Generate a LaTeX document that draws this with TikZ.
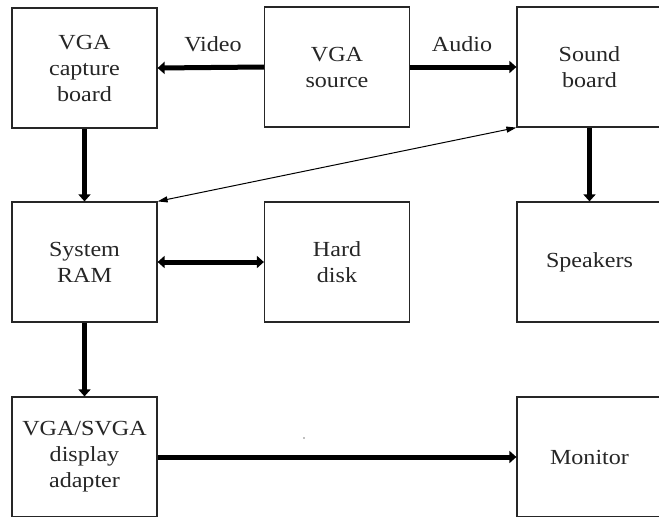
\documentclass[tikz,border=0pt]{standalone}
\usepackage{fontspec}
\setmainfont[FakeStretch=1.12]{Liberation Serif}
\usetikzlibrary{arrows.meta}
\tikzset{
  blk/.style={draw=black!85, line width=1.2pt, rectangle, minimum width=145pt, minimum height=120pt, inner sep=0pt, align=center, font=\fontsize{21.5}{26}\selectfont, text=black!85},
  lbl/.style={font=\fontsize{21.5}{26}\selectfont, text=black!85, inner sep=0pt},
  fat/.style={line width=5pt, -{Triangle[length=7pt,width=12pt]}},
  fatboth/.style={line width=5pt, {Triangle[length=7pt,width=12pt]}-{Triangle[length=7pt,width=12pt]}},
  thin/.style={line width=1pt, {Triangle[length=10pt,width=6pt]}-{Triangle[length=10pt,width=6pt]}}
}
\begin{document}
\begin{tikzpicture}[x=1pt,y=-1pt]
\useasboundingbox (0,0) rectangle (659,517);
\clip (0,0) rectangle (659,517);
\fill[white] (0,0) rectangle (659,517);
\node[blk] (cap) at (84.5,68) {VGA\\capture\\board};
\node[blk] (src) at (337,67) {VGA\\source};
\node[blk] (snd) at (589.5,67) {Sound\\board};
\node[blk] (ram) at (84.5,262) {System\\RAM};
\node[blk] (hd) at (337,262) {Hard\\disk};
\node[blk] (spk) at (589.5,262) {Speakers};
\node[blk] (dsp) at (84.5,457) {VGA/SVGA\\display\\adapter};
\node[blk] (mon) at (589.5,457) {Monitor};
\node[lbl] (vid) at (213,44) {Video};
\node[lbl] (aud) at (462,44) {Audio};
\draw[fat] (src.west) -- (cap.east);
\draw[fat] (src.east) -- (snd.west);
\draw[fat] (cap.south) -- (ram.north);
\draw[fat] (snd.south) -- (spk.north);
\draw[fatboth] (ram.east) -- (hd.west);
\draw[fat] (ram.south) -- (dsp.north);
\draw[fat] (dsp.east) -- (mon.west);
\draw[thin] (ram.north east) -- (snd.south west);
\fill[black!50] (304,438) circle (0.8pt);
\end{tikzpicture}
\end{document}
